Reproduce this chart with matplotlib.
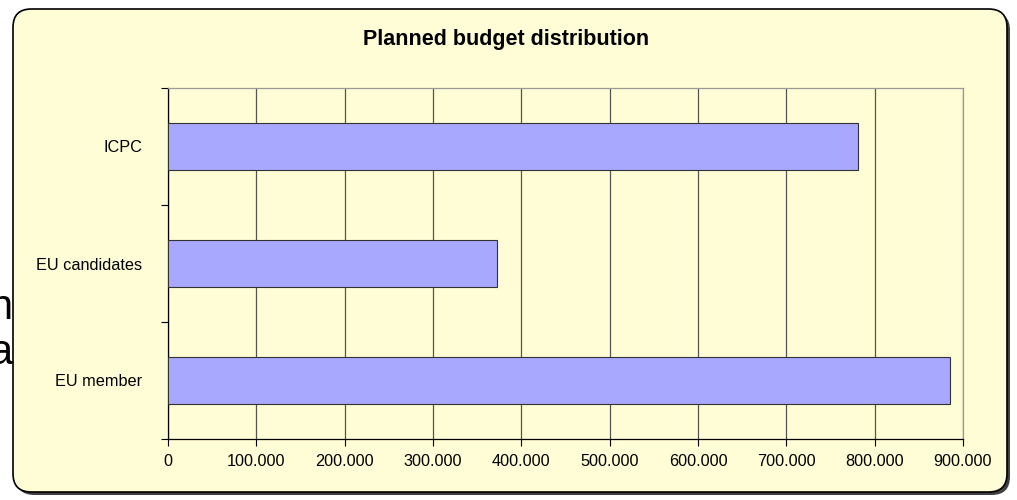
import matplotlib.pyplot as plt
from matplotlib.patches import FancyBboxPatch

categories = ["EU member", "EU candidates", "ICPC"]
budget = [885000, 372000, 781000]
xticks = [0, 100000, 200000, 300000, 400000, 500000, 600000, 700000, 800000, 900000]
xticklabels = ["0", "100.000", "200.000", "300.000", "400.000", "500.000",
               "600.000", "700.000", "800.000", "900.000"]

plt.rcParams['font.family'] = ['Liberation Sans', 'DejaVu Sans']

W, H = 1017, 500
fig = plt.figure(figsize=(W / 100, H / 100), dpi=100)
fig.patch.set_facecolor("white")

# slide text peeking out behind the chart
fig.text(12 / W, 1 - 308 / H, "n", fontsize=30, ha="right", va="center", color="black")
fig.text(12 / W, 1 - 353 / H, "a", fontsize=30, ha="right", va="center", color="black")

# rounded panel with shadow
shadow = FancyBboxPatch((16 / W, 5 / H), 994 / W, 483 / H,
                        boxstyle="round,pad=0,rounding_size=0.018",
                        transform=fig.transFigure, facecolor="#404040",
                        edgecolor="none", mutation_aspect=W / H, zorder=1)
panel = FancyBboxPatch((13 / W, 8 / H), 994 / W, 483 / H,
                       boxstyle="round,pad=0,rounding_size=0.018",
                       transform=fig.transFigure, facecolor="#FFFDD5",
                       edgecolor="black", linewidth=1.2, mutation_aspect=W / H, zorder=2)
fig.patches.extend([shadow, panel])

ax = fig.add_axes([168 / W, 1 - 439 / H, (963 - 168) / W, (439 - 88) / H])
ax.set_zorder(3)
ax.set_facecolor("none")

ax.barh(range(len(categories)), budget, height=0.41, color="#A8A8FF",
        edgecolor="#333333", linewidth=0.8, zorder=3)

ax.set_xlim(0, 900000)
ax.set_ylim(-0.5, len(categories) - 0.5)
ax.set_xticks(xticks)
ax.set_xticklabels(xticklabels, fontsize=11.7)
ax.set_yticks(range(len(categories)))
ax.set_yticklabels(categories, fontsize=11.7)
ax.set_yticks([-0.5, 0.5, 1.5, 2.5], minor=True)
ax.tick_params(axis="y", which="major", length=0, pad=18.5)
ax.tick_params(axis="y", which="minor", length=5, width=0.8)
ax.tick_params(axis="x", length=5, width=0.8, pad=6)

ax.grid(axis="x", color="#555555", linewidth=0.9, zorder=0)
for s in ["top", "right"]:
    ax.spines[s].set_color("#999999")
    ax.spines[s].set_linewidth(0.9)
ax.spines["left"].set_linewidth(0.9)
ax.spines["bottom"].set_linewidth(0.9)

fig.text(506 / W, 1 - 40 / H, "Planned budget distribution", fontsize=15.5,
         fontweight="bold", ha="center", va="center", zorder=4)

fig.savefig("out.png", dpi=100)
